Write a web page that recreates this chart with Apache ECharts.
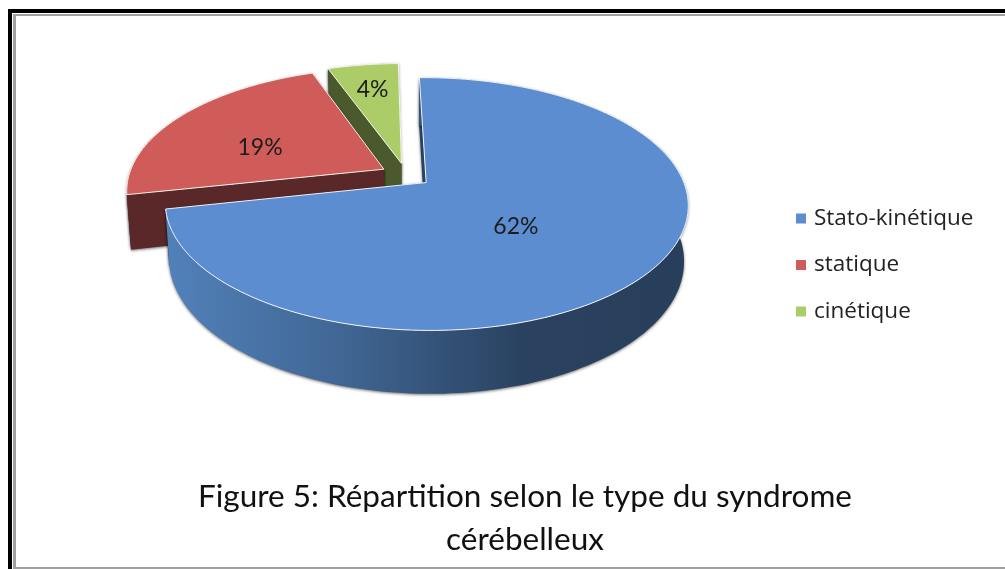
<!DOCTYPE html>
<html>
<head>
<meta charset="utf-8">
<title>Figure 5</title>
<script src="https://cdn.jsdelivr.net/npm/echarts@6/dist/echarts.min.js"></script>
<style>
  html, body { margin: 0; padding: 0; background: #fff; }
  #chart1 { width: 1005px; height: 569px; }
</style>
</head>
<body>
<div id="chart1"></div>
<script>
// data
var categories = ['Stato-kinétique', 'statique', 'cinétique'];
var sliceValues = [61.5, 19.49, 4.49]; // labels show the rounded value

// colours per slice
var topColors = ['#5b8dd0', '#d05c5a', '#abcc66'];
var sideColors = ['#2a4260', '#5a2828', '#4b5a2c'];
var wallGradient = {
    type: 'linear', global: true, x: 165, y: 0, x2: 690, y2: 0,
    colorStops: [
        { offset: 0, color: '#5281ba' },
        { offset: 0.35, color: '#3f6592' },
        { offset: 0.68, color: '#2a4260' },
        { offset: 1, color: '#283f5b' }
    ]
};

// pie geometry (perspective disc)
var pie = { cx: 406, cy: 175, rx: 255, ry: 120.2, persp: 0.168, depth: 54, shrink: 0.015, explode: 0.1, start: -1 };
var labelRadius = [0.47, 0.54, 0.72];
var labelShift = [8, -9, 0]; // degrees off the slice middle
var fontName = 'Lato, "Open Sans", sans-serif';

var total = sliceValues.reduce(function (a, b) { return a + b; }, 0);

function toRad(deg) { return deg * Math.PI / 180; }

// plane position -> screen, h = 0 top face, h = 1 bottom face
function project(u, v, h) {
    var w = 1 + pie.persp * v;
    var s = 1 - pie.shrink * h;
    return [
        pie.cx + s * pie.rx * u / w,
        pie.cy - s * pie.ry * v / w + h * pie.depth / w
    ];
}

function slicePoint(a0, a1, r, deg, h) {
    var mid = toRad((a0 + a1) / 2);
    var a = toRad(deg);
    return project(pie.explode * Math.sin(mid) + r * Math.sin(a), pie.explode * Math.cos(mid) + r * Math.cos(a), h);
}

function arcPoints(a0, a1, h) {
    var pts = [];
    for (var d = a0; d < a1; d += 1.5) {
        pts.push(slicePoint(a0, a1, 1, d, h));
    }
    pts.push(slicePoint(a0, a1, 1, a1, h));
    return pts;
}

function makeRender(index) {
    return function (params, api) {
        var before = 0;
        for (var i = 0; i < index; i++) before += sliceValues[i];
        var value = api.value(0);
        var a0 = pie.start + before / total * 360;
        var a1 = a0 + value / total * 360;
        var apexTop = slicePoint(a0, a1, 0, a0, 0);
        var apexBottom = slicePoint(a0, a1, 0, a0, 1);
        var topArc = arcPoints(a0, a1, 0);
        var bottomArc = arcPoints(a0, a1, 1);
        var shadow = { shadowBlur: 3, shadowColor: 'rgba(0,0,0,0.55)', shadowOffsetX: 0, shadowOffsetY: 1 };
        var side = Object.assign({ fill: sideColors[index] }, shadow);

        var wall = {
            type: 'polygon',
            shape: { points: topArc.concat(bottomArc.slice().reverse()) },
            style: Object.assign({ fill: index === 0 ? wallGradient : sideColors[index] }, shadow)
        };
        var faces = [
            { type: 'polygon', shape: { points: [apexTop, topArc[topArc.length - 1], bottomArc[bottomArc.length - 1], apexBottom] }, style: side },
            { type: 'polygon', shape: { points: [apexTop, topArc[0], bottomArc[0], apexBottom] }, style: side }
        ];
        // the big slice shows its wall in front of the cut faces, the others behind
        var children = index === 0 ? faces.concat([wall]) : [wall].concat(faces);
        // top face
        children.push({
            type: 'polygon',
            shape: { points: [apexTop].concat(topArc) },
            style: { fill: topColors[index], stroke: 'rgba(255,255,255,0.9)', lineWidth: 1 }
        });

        var labelPos = slicePoint(a0, a1, labelRadius[index], (a0 + a1) / 2 + labelShift[index], 0);
        children.push({
            type: 'text',
            style: {
                x: labelPos[0], y: labelPos[1],
                text: Math.round(value) + '%',
                fill: '#1c1c1c',
                font: '23px ' + fontName,
                align: 'center', verticalAlign: 'middle'
            }
        });
        return { type: 'group', children: children };
    };
}

var series = categories.map(function (name, i) {
    return {
        name: name,
        type: 'custom',
        coordinateSystem: 'none',
        z: 10 - i,
        silent: true,
        itemStyle: { color: topColors[i] },
        renderItem: makeRender(i),
        data: [[sliceValues[i]]]
    };
});
// back slices are painted first
series.sort(function (a, b) { return a.z - b.z; });

var myChart1 = echarts.init(document.getElementById('chart1'), null, { renderer: 'canvas' });
var option = {
    animation: false,
    backgroundColor: '#fff',
    title: {
        text: 'Figure 5: Répartition selon le type du syndrome\ncérébelleux',
        left: 520,
        top: 470,
        textAlign: 'center',
        textStyle: { fontFamily: fontName, fontWeight: 'normal', fontSize: 31.5, lineHeight: 43, color: '#111' }
    },
    legend: {
        orient: 'vertical',
        left: 791,
        top: 202,
        data: categories,
        selectedMode: false,
        icon: 'rect',
        itemWidth: 10,
        itemHeight: 10,
        itemGap: 23.5,
        textStyle: { fontFamily: '"Open Sans", sans-serif', fontSize: 22.5, lineHeight: 22, color: '#222', padding: [0, 0, 0, 3] }
    },
    graphic: [
        { type: 'rect', shape: { x: 8, y: 9, width: 997, height: 4 }, style: { fill: '#000' } },
        { type: 'rect', shape: { x: 8, y: 9, width: 4, height: 560 }, style: { fill: '#000' } },
        { type: 'rect', shape: { x: 13, y: 14, width: 992, height: 2 }, style: { fill: '#a0a0a0' } },
        { type: 'rect', shape: { x: 13, y: 14, width: 3, height: 555 }, style: { fill: '#a0a0a0' } },
        { type: 'rect', shape: { x: 13, y: 567, width: 992, height: 2 }, style: { fill: '#a0a0a0' } }
    ],
    series: series
};
myChart1.setOption(option);
</script>
</body>
</html>
